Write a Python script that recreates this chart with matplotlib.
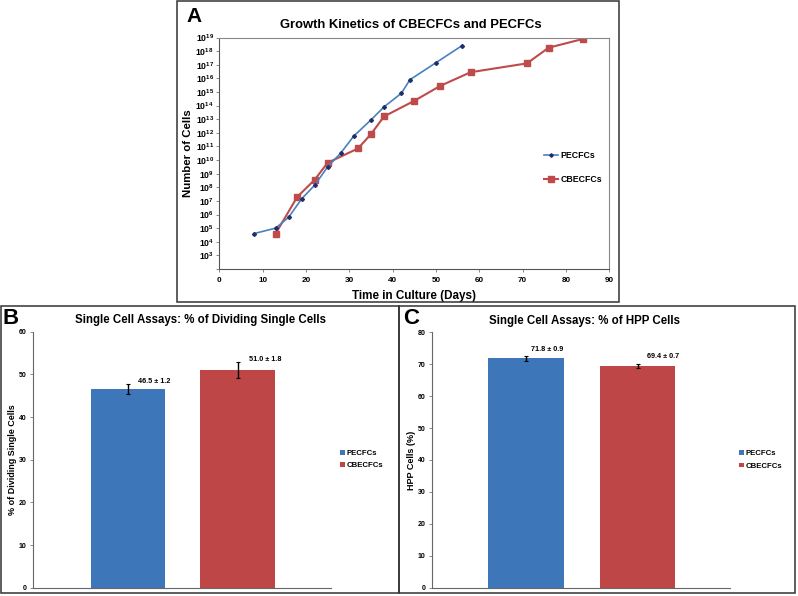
import matplotlib
matplotlib.use("Agg")
import matplotlib.pyplot as plt
import numpy as np
from matplotlib.patches import Rectangle
from matplotlib.ticker import FixedLocator, FuncFormatter

plt.rcParams['font.family'] = ['Liberation Sans', 'DejaVu Sans']
plt.rcParams['font.weight'] = 'bold'
plt.rcParams['mathtext.fontset'] = 'custom'
plt.rcParams['mathtext.rm'] = 'Liberation Sans:bold'
plt.rcParams['mathtext.bf'] = 'Liberation Sans:bold'
plt.rcParams['mathtext.default'] = 'bf'

# ---------------- data ----------------
pecfc_days = [8, 13, 16, 19, 22, 25, 28, 31, 35, 38, 42, 44, 50, 56]
pecfc_log_cells = [4.6, 5.0, 5.8, 7.15, 8.15, 9.5, 10.5, 11.75, 12.95, 13.9, 14.9, 15.9, 17.15, 18.4]
cbecfc_days = [13, 18, 22, 25, 32, 35, 38, 45, 51, 58, 71, 76, 84]
cbecfc_log_cells = [4.6, 7.3, 8.55, 9.8, 10.85, 11.9, 13.2, 14.35, 15.45, 16.45, 17.1, 18.25, 18.9]

groups = ['PECFCs', 'CBECFCs']
dividing_mean = [46.5, 51.0]
dividing_err = [1.2, 1.8]
hpp_mean = [71.8, 69.4]
hpp_err = [0.9, 0.7]

blue_bar = '#3D77B9'
red_bar = '#BE4646'
blue_line = '#4A80C0'
blue_marker = '#1F2F6B'
red_line = '#BE4B4A'

W, H = 798, 596
fig = plt.figure(figsize=(W / 100, H / 100), dpi=100)


def ax_rect(l, r, t, b):
    return [l / W, 1 - b / H, (r - l) / W, (b - t) / H]


def fig_box(x0, y0, x1, y1):
    fig.add_artist(Rectangle((x0 / W, 1 - y1 / H), (x1 - x0) / W, (y1 - y0) / H,
                             transform=fig.transFigure, fill=False,
                             ec='#333333', lw=1.1, zorder=10))


# panel boxes
fig_box(176.5, 0.5, 619, 302)
fig_box(0.5, 306, 399, 593)
fig_box(399, 306, 795, 593)

# ---------------- Panel A ----------------
axA = fig.add_axes(ax_rect(219.3, 609.3, 37.5, 269))
pe_cells = [10.0 ** v for v in pecfc_log_cells]
cb_cells = [10.0 ** v for v in cbecfc_log_cells]
axA.plot(pecfc_days, pe_cells, color=blue_line, lw=1.2, marker='D', ms=2.0,
         mfc=blue_marker, mec=blue_marker, label='PECFCs', zorder=3)
axA.plot(cbecfc_days, cb_cells, color=red_line, lw=1.5, marker='s', ms=4.6,
         mfc=red_line, mec=red_line, label='CBECFCs', zorder=2)
axA.set_yscale('log')
axA.set_ylim(1e2, 1e19)
axA.set_xlim(0, 90)
axA.set_xticks(np.arange(0, 91, 10))
axA.yaxis.set_major_locator(FixedLocator([10.0 ** e for e in range(2, 20)]))
axA.yaxis.set_minor_locator(FixedLocator([]))
axA.yaxis.set_major_formatter(FuncFormatter(
    lambda v, p: '' if v < 999 else '$10^{%d}$' % int(round(np.log10(v)))))
for s in axA.spines.values():
    s.set_color('#888888')
    s.set_linewidth(0.8)
axA.spines['left'].set_color('#555555')
axA.spines['bottom'].set_color('#555555')
axA.tick_params(axis='y', labelsize=6.2, length=2, width=0.6, color='#777777', pad=2)
axA.tick_params(axis='x', labelsize=5.9, length=2, width=0.6, color='#777777', pad=4)
axA.set_title('Growth Kinetics of CBECFCs and PECFCs', fontsize=9.4,
              fontweight='bold', pad=7, x=0.49)
axA.set_xlabel('Time in Culture (Days)', fontsize=8.4, fontweight='bold', labelpad=4)
axA.set_ylabel('Number of Cells', fontsize=8.2, fontweight='bold', labelpad=2)
axA.legend(loc='center left', bbox_to_anchor=(0.833, 0.44), frameon=False,
           fontsize=6.3, handlelength=1.6, handletextpad=0.25, labelspacing=1.7,
           borderpad=0, borderaxespad=0, markerscale=0.9)
fig.text(186 / W, 1 - 17 / H, 'A', fontsize=15, fontweight='bold', va='center', ha='left')


# ---------------- Panels B and C ----------------
def bar_panel(rect, means, errs, ymax, title, ylabel, letter, letter_x, text_off):
    ax = fig.add_axes(rect)
    x = np.arange(len(groups))
    bars = ax.bar(x, means, width=0.68, color=[blue_bar, red_bar], label=groups,
                  zorder=2)
    ax.errorbar(x, means, yerr=errs, fmt='none', ecolor='black', elinewidth=1,
                capsize=1.6, capthick=0.8, zorder=3)
    for xi, m, e in zip(x, means, errs):
        ax.annotate('%.1f \u00b1 %.1f' % (m, e), xy=(xi, m + e),
                    xytext=text_off[xi], textcoords='offset pixels',
                    ha='left', va='center', fontsize=5.2, fontweight='bold')
    ax.set_ylim(0, ymax)
    ax.set_yticks(np.arange(0, ymax + 1, 10))
    ax.set_xticks([])
    for side in ['top', 'right']:
        ax.spines[side].set_visible(False)
    for side in ['left', 'bottom']:
        ax.spines[side].set_color('#666666')
        ax.spines[side].set_linewidth(0.8)
    ax.tick_params(axis='y', labelsize=5.0, length=2, width=0.6, color='#777777', pad=3)
    ax.set_ylabel(ylabel, fontsize=6.5, fontweight='bold', labelpad=1)
    ax.set_title(title, fontsize=8.3, fontweight='bold', pad=6)
    ax.legend(handles=list(bars), labels=groups, loc='center left',
              bbox_to_anchor=(1.03, 0.5), frameon=False, fontsize=5.6,
              handlelength=0.6, handleheight=0.6, handletextpad=0.3,
              labelspacing=0.65, borderpad=0, borderaxespad=0)
    fig.text(letter_x / W, 1 - 318.5 / H, letter, fontsize=16, fontweight='bold',
             va='center', ha='left')
    return ax


axB = bar_panel(ax_rect(33.3, 331, 331.7, 587.7), dividing_mean, dividing_err, 60,
                'Single Cell Assays: % of Dividing Single Cells',
                '% of Dividing Single Cells', 'B', 2,
                {0: (10, 3), 1: (11, 3)})
axB.set_xlim(-0.87, 1.856)
axB.title.set_x(0.56)

axC = bar_panel(ax_rect(432.3, 730, 332.3, 587.7), hpp_mean, hpp_err, 80,
                'Single Cell Assays: % of HPP Cells', 'HPP Cells (%)', 'C', 403,
                {0: (5, 6), 1: (9, 7)})
axC.set_xlim(-0.837, 1.828)
axC.title.set_x(0.51)

fig.savefig('out.png', dpi=100)
